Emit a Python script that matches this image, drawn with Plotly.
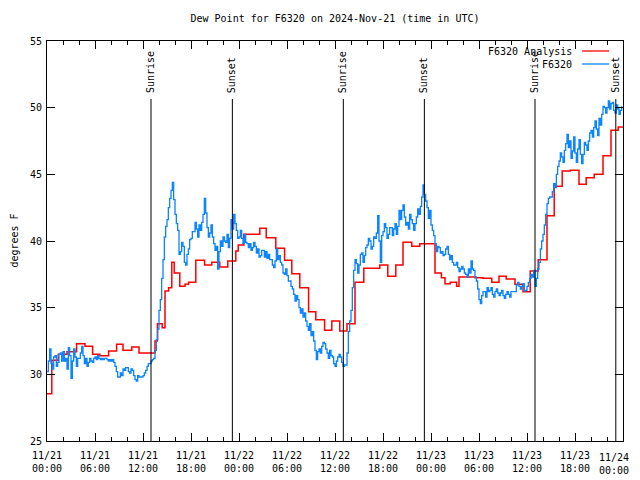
import numpy as np
import pandas as pd
import plotly.graph_objects as go

# ---------------- data ----------------
base = pd.Timestamp("2024-11-21 00:00")

# F6320 observations, 10-minute spacing starting 11/21 00:00 (one row per hour)
blue_values = [
    30.2, 31.0, 31.9, 30.8, 30.4, 31.3,
    31.4, 30.6, 30.9, 31.5, 31.6, 31.0,
    31.7, 31.0, 31.2, 30.4, 32.0, 31.4,
    29.7, 31.0, 31.9, 31.3, 30.6, 31.2,
    31.2, 31.6, 32.1, 31.4, 30.8, 31.2,
    30.6, 30.9, 31.2, 31.0, 30.9, 31.2,
    31.3, 31.1, 31.4, 31.2, 31.1, 31.2,
    31.1, 31.2, 31.2, 31.1, 31.0, 31.1,
    31.0, 31.1, 30.9, 30.6, 30.2, 29.8,
    29.8, 30.1, 29.9, 30.4, 30.3, 30.5,
    30.5, 30.2, 30.1, 30.4, 30.3, 29.9,
    29.6, 29.5, 29.9, 29.8, 29.8, 29.8,
    29.9, 30.1, 30.3, 30.6, 30.8, 30.8,
    31.0, 31.1, 31.2, 31.8, 32.6, 33.4,
    34.8, 35.6, 37.2, 38.6, 40.3, 41.1,
    41.6, 42.5, 43.2, 43.8, 44.4, 43.1,
    42.0, 41.3, 40.8, 39.0, 39.2, 39.9,
    39.6, 38.4, 38.2, 39.0, 39.4, 40.1,
    40.2, 40.7, 40.7, 41.4, 40.9, 40.3,
    41.2, 40.8, 41.4, 42.0, 43.2, 42.1,
    41.0, 40.3, 40.6, 41.2, 40.3, 39.8,
    39.3, 39.6, 37.9, 39.2, 40.0, 39.6,
    40.3, 40.0, 39.9, 40.5, 39.5, 40.2,
    41.6, 40.9, 42.0, 41.3, 40.8, 40.2,
    40.3, 40.8, 40.2, 39.8, 40.5, 39.9,
    39.8, 39.5, 39.8, 39.3, 39.5, 39.9,
    39.6, 39.1, 39.4, 38.8, 38.9, 39.3,
    39.3, 38.8, 39.2, 38.7, 39.0, 38.6,
    38.6, 38.2, 38.0, 38.5, 39.4, 38.6,
    38.9, 38.4, 38.2, 37.6, 37.5, 37.9,
    37.4, 37.0, 37.0, 36.6, 36.4, 36.0,
    35.5, 35.9, 35.6, 35.0, 34.6, 34.9,
    34.3, 34.6, 34.0, 33.6, 33.3, 33.8,
    32.9, 33.2, 32.5, 31.8, 31.1, 31.7,
    31.9, 31.6, 32.1, 32.4, 32.3, 31.9,
    31.6, 31.2, 31.8, 31.4, 31.3, 30.8,
    30.6, 31.0, 31.3, 31.5, 31.3, 30.9,
    30.6, 30.7, 30.7, 31.6, 33.2, 34.0,
    34.8, 36.5, 37.8, 38.6, 38.3, 37.6,
    38.2, 39.0, 39.1, 38.4, 38.9, 39.5,
    39.7, 40.2, 40.0, 39.4, 39.6, 40.3,
    40.2, 40.6, 41.9, 40.0, 38.4, 40.4,
    40.7, 41.3, 41.0, 40.2, 40.5, 41.0,
    41.0, 40.4, 40.9, 41.3, 40.5, 41.1,
    42.3, 41.6, 42.3, 42.7, 41.8, 41.2,
    41.4, 40.9, 42.0, 41.6, 41.3, 40.8,
    41.3, 41.8, 42.4, 42.0, 42.6, 43.3,
    44.2, 43.5, 43.0, 42.5, 41.7, 42.3,
    41.2, 40.8, 40.4, 39.8, 39.2, 39.6,
    39.5, 39.1, 39.2, 38.9, 39.0, 39.4,
    39.6, 39.0, 38.6, 38.9, 38.4, 38.2,
    38.2, 38.4, 38.0, 37.7, 37.9, 38.1,
    37.9, 37.6, 37.5, 37.3, 37.9, 37.6,
    38.5, 37.9, 37.8, 37.3, 37.0, 36.4,
    35.6, 35.3, 35.9, 36.2, 36.2, 35.8,
    36.5, 36.2, 36.3, 36.5, 36.0, 35.8,
    36.2, 36.4, 36.1, 35.9, 36.1, 36.3,
    35.9, 35.7, 36.0, 36.2, 36.0, 35.8,
    36.2, 36.2, 36.2, 36.2, 36.7, 36.9,
    36.6, 36.4, 36.6, 36.8, 36.25, 36.3,
    36.6, 36.9, 37.2, 37.5, 37.3, 37.8,
    36.6, 37.2, 37.9, 38.4, 39.4, 40.0,
    40.5, 41.2, 42.0, 42.8, 43.2, 43.3,
    43.3, 43.7, 44.3, 44.0, 45.0, 45.6,
    46.0, 46.6, 46.3, 45.9, 46.8, 47.3,
    48.0, 47.0, 47.5, 46.2, 46.75, 47.8,
    46.6, 45.9, 46.9, 47.6, 46.5, 45.8,
    46.5, 47.4, 47.2, 46.8, 47.5, 48.1,
    48.3, 47.8, 48.5, 49.0, 48.4, 47.9,
    49.2, 48.7, 49.5, 50.1, 50.0, 49.6,
    50.0, 50.5, 49.9, 50.3, 50.4, 49.8,
    49.6, 50.2, 49.9, 49.5, 49.8, 50.1,
]

# F6320 Analysis (step series): hours after 11/21 00:00 and values
red_hours = [0, 0.6, 1.4, 2.5, 3.7, 4.75, 5.7, 6.6, 7.7, 8.7,
             9.5, 10.6, 11.5, 13.5, 13.8, 14.4, 14.75, 15.2, 15.6, 15.9,
             16.6, 17.25, 17.7, 18.6, 19.7, 20.6, 21.6, 22.6, 23.6, 23.9,
             24.6, 26.6, 27.4, 28.6, 29.7, 30.6, 31.6, 32.7, 33.6, 34.7,
             35.6, 36.6, 37.5, 38.5, 39.6, 41.6, 42.6, 43.6, 44.5, 45.6,
             46.6, 48.5, 49.3, 49.75, 50.4, 51.2, 51.5, 53.5, 54.5, 55.6,
             56.5, 57.4, 58.5, 59.5, 60.4, 61.4, 62.5, 63.4, 64.4, 65.4,
             66.5, 67.4, 68.4, 69.5, 70.5, 71.4, 72]
red_values = [28.55, 31.05, 31.5, 31.7, 32.3, 32.1, 31.5, 31.4, 31.75, 32.25,
              31.8, 32.05, 31.6, 32.5, 33.8, 33.5, 36.25, 36.5, 38.4, 37.6,
              36.6, 36.75, 36.9, 38.55, 38.2, 38.4, 38.05, 38.5, 39.25, 39.7,
              40.5, 40.95, 40.25, 39.45, 38.55, 37.55, 36.5, 34.7, 34.1, 33.3,
              34.0, 33.25, 33.8, 36.9, 37.95, 38.2, 37.35, 38.2, 39.9, 39.6,
              39.8, 37.6, 37.25, 36.8, 36.9, 36.6, 37.3, 37.25, 37.2, 36.9,
              37.35, 37.15, 36.75, 36.2, 37.75, 38.6, 41.9, 44.1, 45.25, 45.3,
              44.25, 44.75, 45.0, 46.4, 48.3, 48.55, 48.55]

sun_labels = ["Sunrise", "Sunset", "Sunrise", "Sunset", "Sunrise", "Sunset"]
sun_hours = [13.0, 23.17, 37.04, 47.17, 61.0, 71.1]

x_tick_hours = [0, 6, 12, 18, 24, 30, 36, 42, 48, 54, 60, 66, 72]
x_tick_labels = ["11/21<br>00:00", "11/21<br>06:00", "11/21<br>12:00", "11/21<br>18:00",
                 "11/22<br>00:00", "11/22<br>06:00", "11/22<br>12:00", "11/22<br>18:00",
                 "11/23<br>00:00", "11/23<br>06:00", "11/23<br>12:00", "11/23<br>18:00",
                 "11/24<br>00:00"]
y_ticks = [25, 30, 35, 40, 45, 50, 55]

series_names = ["F6320 Analysis", "F6320"]
series_colors = ["#ff0000", "#0a84ff"]

# ---------------- figure ----------------
FONT = "DejaVu Sans Mono"
blue_times = base + pd.to_timedelta(np.arange(len(blue_values)) * 10, unit="min")
red_times = base + pd.to_timedelta(red_hours, unit="h")

fig = go.Figure()
fig.add_trace(go.Scatter(x=red_times, y=red_values, mode="lines", line_shape="hv",
                         line=dict(color=series_colors[0], width=1.5),
                         name=series_names[0], showlegend=False))
fig.add_trace(go.Scatter(x=blue_times, y=blue_values, mode="lines", line_shape="hv",
                         line=dict(color=series_colors[1], width=1.3),
                         name=series_names[1], showlegend=False))

for lab, h in zip(sun_labels, sun_hours):
    t = base + pd.Timedelta(hours=h)
    fig.add_shape(type="line", xref="x", yref="paper", x0=t, x1=t, y0=0, y1=0.855,
                  line=dict(color="black", width=1))
    fig.add_annotation(x=t, xref="x", y=0.8675, yref="paper", text=lab,
                       textangle=-90, showarrow=False, xanchor="center", yanchor="bottom",
                       font=dict(family=FONT, size=10, color="black"), borderpad=0)

# manual legend (text left of the line sample)
leg_y = [0.975, 0.9425]
for name, col, yy in zip(series_names, series_colors, leg_y):
    fig.add_annotation(x=0.915, xref="paper", y=yy, yref="paper", text=name,
                       showarrow=False, xanchor="right", yanchor="middle",
                       font=dict(family=FONT, size=10, color="black"))
    fig.add_shape(type="line", xref="paper", yref="paper", x0=0.929, x1=0.976,
                  y0=yy, y1=yy, line=dict(color=col, width=1.3))

# y axis title
fig.add_annotation(x=-0.058, xref="paper", y=0.5, yref="paper", text="degrees F",
                   textangle=-90, showarrow=False, xanchor="center", yanchor="middle",
                   font=dict(family=FONT, size=10, color="black"))

# last x tick label kept inside the visible page
fig.add_annotation(x=1.0, xref="paper", y=0, yref="paper", text=x_tick_labels[-1],
                   showarrow=False, xanchor="right", yanchor="top", yshift=-10, xshift=7,
                   align="center", borderpad=0,
                   font=dict(family=FONT, size=10, color="black"))

fig.update_layout(
    width=640, height=480,
    margin=dict(l=39, r=25, t=33, b=47, autoexpand=False),
    paper_bgcolor="white", plot_bgcolor="white",
    title=dict(text="Dew Point for F6320 on 2024-Nov-21 (time in UTC)",
               x=0.5, xref="paper", y=0.985, yref="container", xanchor="center",
               yanchor="top",
               font=dict(family=FONT, size=10, color="black")),
    font=dict(family=FONT, size=10, color="black"),
    showlegend=False,
)
fig.update_xaxes(
    range=[base, base + pd.Timedelta(hours=72)],
    tickmode="array",
    tickvals=[base + pd.Timedelta(hours=h) for h in x_tick_hours],
    ticktext=x_tick_labels[:-1] + [""],
    ticks="inside", ticklen=8, tickcolor="black", tickwidth=1,
    showline=True, linecolor="black", linewidth=1, mirror="allticks",
    showgrid=False, zeroline=False, automargin=False, ticklabelstandoff=5,
    minor=dict(tickmode="linear", tick0=base, dtick=2 * 3600 * 1000,
               ticks="inside", ticklen=4, tickcolor="black", showgrid=False),
    tickfont=dict(family=FONT, size=10, color="black"),
)
fig.update_yaxes(
    range=[25, 55], tickmode="array", tickvals=y_ticks,
    ticks="inside", ticklen=8, tickcolor="black", tickwidth=1,
    showline=True, linecolor="black", linewidth=1, mirror="allticks",
    showgrid=False, zeroline=False, automargin=False, ticklabelstandoff=2,
    tickfont=dict(family=FONT, size=10, color="black"),
)

fig.write_html("out.html")
